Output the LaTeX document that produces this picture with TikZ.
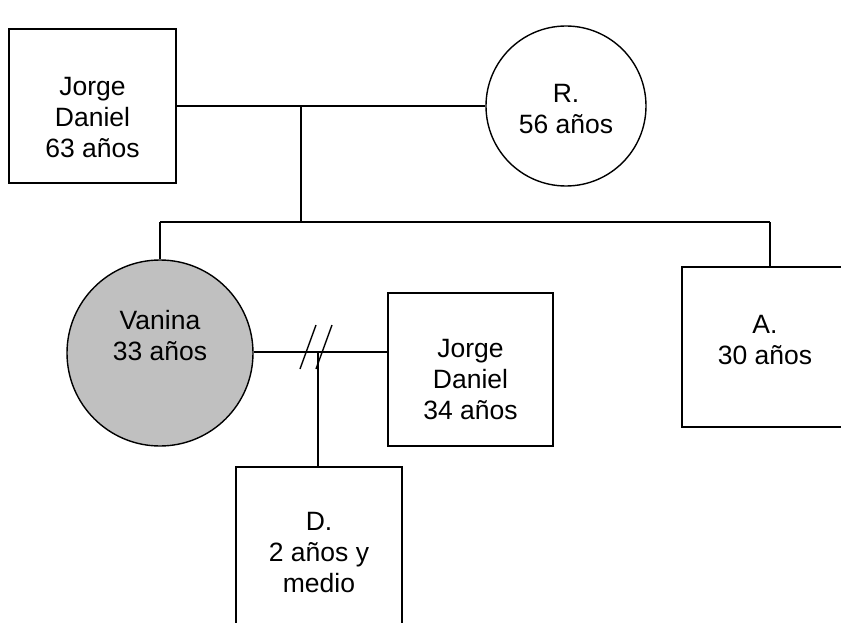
\documentclass[tikz,border=0pt]{standalone}
\usepackage{fontspec}
\setmainfont{Liberation Sans}
\usepackage{tikz}
\usetikzlibrary{calc}
\definecolor{grisv}{RGB}{192,192,192}

\tikzset{
  hombre/.style={draw, line width=1.4pt, rectangle, inner sep=0pt},
  mujer/.style={draw, line width=1.4pt, circle, inner sep=0pt},
  texto/.style={align=center, inner sep=0pt},
  linea/.style={line width=1.4pt}
}

\begin{document}
\begin{tikzpicture}[x=1pt,y=-1pt,font=\fontsize{26.5}{31}\selectfont]
	\useasboundingbox (0,0) rectangle (841,623);

	\coordinate (M) at (301,106);
	\coordinate (H) at (301,222);
	\coordinate (S1) at (160,222);
	\coordinate (S2) at (770,222);
	\coordinate (C) at (318,352);

	\node[hombre, minimum width=167pt, minimum height=154pt] (jd63) at (92.5,106) {};
	\node[mujer, minimum size=160pt] (r) at (566,106) {};
	\node[mujer, fill=grisv, minimum size=186pt] (vanina) at (160,353) {};
	\node[hombre, minimum width=165pt, minimum height=153pt] (jd34) at (470.5,369.5) {};
	\node[hombre, minimum width=166pt, minimum height=160pt] (a) at (765,347) {};
	\node[hombre, minimum width=166pt, minimum height=178pt] (d) at (319,556) {};

	\node[texto] (jd63t) at (92.5,118) {Jorge\\Daniel\\63 años};
	\node[texto] (rt) at (566,109) {R.\\56 años};
	\node[texto] (vaninat) at (160,336) {Vanina\\33 años};
	\node[texto] (jd34t) at (470.5,380) {Jorge\\Daniel\\34 años};
	\node[texto] (at) at (765,340.5) {A.\\30 años};
	\node[texto] (dt) at (319,553) {D.\\2 años y\\medio};

	\draw[linea] (jd63.east) -- (r.west);
	\draw[linea] (M) -- (H);
	\draw[linea] (S1) -- (S2);
	\draw[linea] (S1) -- (vanina.north);
	\draw[linea] (S2) -- (S2 |- a.north);

	% pareja separada
	\draw[linea] (vanina.east |- C) -- (C -| jd34.west);
	\draw[linea] (300,369) -- (316,325);
	\draw[linea] (316,369) -- (332,325);
	\draw[linea] (C) -- (C |- d.north);
\end{tikzpicture}
\end{document}
